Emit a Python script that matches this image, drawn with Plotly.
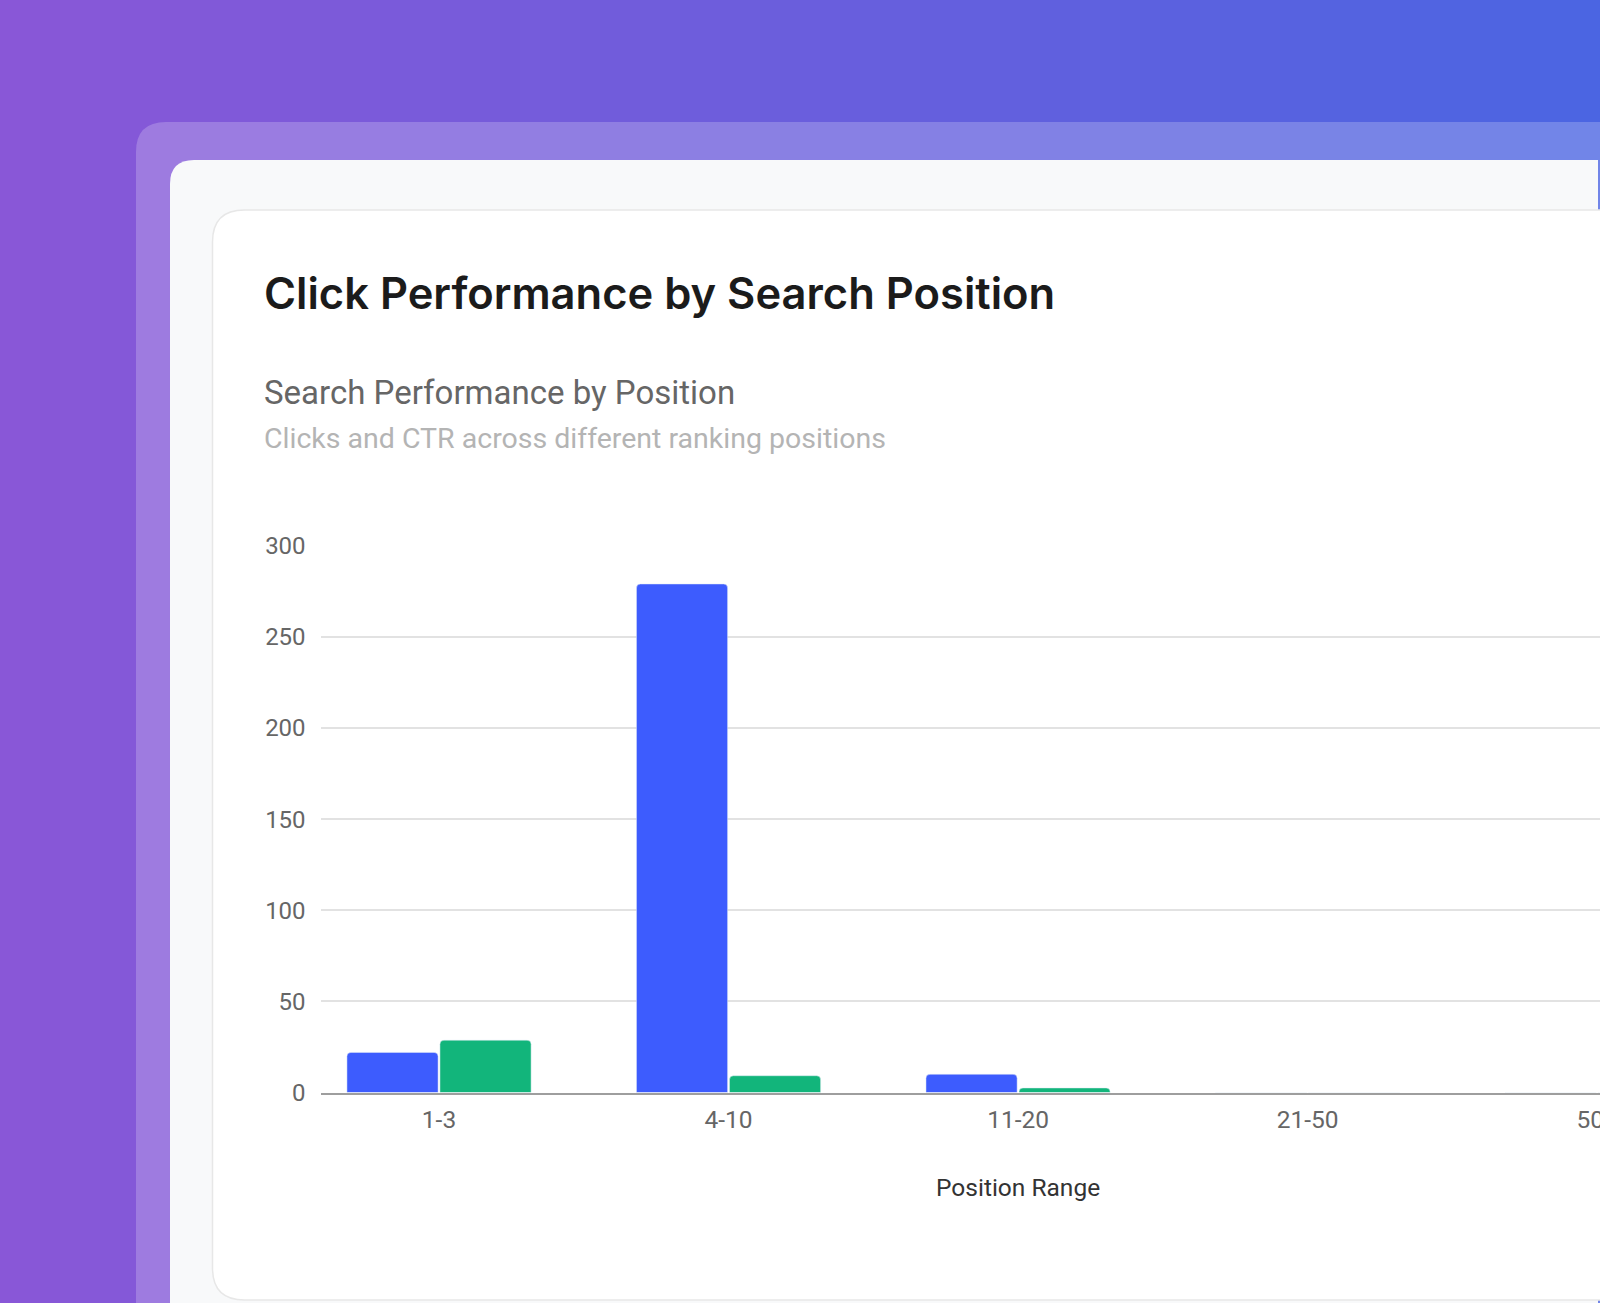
import plotly.graph_objects as go

W, H = 1600, 1303

positions = ["1-3", "4-10", "11-20", "21-50", "50+"]
clicks = [22, 279, 10, 0, 0]
ctr = [28.7, 9.2, 2.5, 0, 0]
y_ticks = [0, 50, 100, 150, 200, 250, 300]

title = "Click Performance by Search Position"
chart_title = "Search Performance by Position"
chart_sub = "Clicks and CTR across different ranking positions"


def px(x):
    return x / W


def py(y):
    return 1 - y / H


def rounded_path(x0, y0, x1, y1, r, corners="tl"):
    # rounded rect in pixel coords -> path in paper coords, Q curves for corners
    tl = "tl" in corners
    bl = "bl" in corners
    p = []
    if tl:
        p.append(f"M{px(x0)},{py(y0 + r)}")
        p.append(f"Q{px(x0)},{py(y0)} {px(x0 + r)},{py(y0)}")
    else:
        p.append(f"M{px(x0)},{py(y0)}")
    p.append(f"L{px(x1)},{py(y0)}")
    p.append(f"L{px(x1)},{py(y1)}")
    if bl:
        p.append(f"L{px(x0 + r)},{py(y1)}")
        p.append(f"Q{px(x0)},{py(y1)} {px(x0)},{py(y1 - r)}")
    else:
        p.append(f"L{px(x0)},{py(y1)}")
    p.append("Z")
    return " ".join(p)


def mix(c1, c2, t):
    a = [int(c1[i:i + 2], 16) for i in (1, 3, 5)]
    b = [int(c2[i:i + 2], 16) for i in (1, 3, 5)]
    return "rgb(%d,%d,%d)" % tuple(round(a[k] + (b[k] - a[k]) * t) for k in range(3))


shapes = []
n_strips = 80
for i in range(n_strips):
    shapes.append(dict(
        type="rect", xref="paper", yref="paper", layer="below",
        x0=i / n_strips, x1=(i + 1) / n_strips + 0.002, y0=0, y1=1,
        fillcolor=mix("#8957d7", "#4b65e2", i / (n_strips - 1)),
        line=dict(width=0),
    ))

# glass panel, inner panel, card
shapes.append(dict(type="path", xref="paper", yref="paper", layer="below",
                   path=rounded_path(136, 122, 1700, 1400, 30),
                   fillcolor="rgba(255,255,255,0.21)", line=dict(width=0)))
shapes.append(dict(type="path", xref="paper", yref="paper", layer="below",
                   path=rounded_path(170, 160, 1598, 1400, 24),
                   fillcolor="#f8f9fa", line=dict(width=0)))
shapes.append(dict(type="path", xref="paper", yref="paper", layer="below",
                   path=rounded_path(212.5, 210, 1640, 1300, 32, corners="tlbl"),
                   fillcolor="#ffffff", line=dict(color="#e7e7e7", width=1.5)))

fig = go.Figure()
fig.add_trace(go.Bar(x=positions, y=clicks, name="Clicks", marker_color="#3d5cfe"))
fig.add_trace(go.Bar(x=positions, y=ctr, name="CTR (%)", marker_color="#12b57b"))

annotations = [
    dict(text=title, x=px(262), y=py(293), xanchor="left", yanchor="middle",
         font=dict(family="Inter", size=43.5, color="#1b1b1b", weight=600)),
    dict(text=chart_title, x=px(262), y=py(393), xanchor="left", yanchor="middle",
         font=dict(family="Roboto", size=33, color="#666666")),
    dict(text=chart_sub, x=px(262), y=py(438), xanchor="left", yanchor="middle",
         font=dict(family="Roboto", size=28.5, color="#b4b4b4")),
    dict(text="Position Range", x=px(1018), y=py(1187), xanchor="center", yanchor="middle",
         font=dict(family="Roboto", size=24.5, color="#333333")),
]
for a in annotations:
    a.update(xref="paper", yref="paper", showarrow=False)

fig.update_layout(
    width=W, height=H,
    margin=dict(l=0, r=0, t=0, b=0),
    paper_bgcolor="#7a5bdb",
    plot_bgcolor="rgba(0,0,0,0)",
    showlegend=False,
    barmode="group",
    bargap=0.3575,
    bargroupgap=0.02,
    barcornerradius=4,
    shapes=shapes,
    annotations=annotations,
    font=dict(family="Roboto", color="#666666"),
    xaxis=dict(
        domain=[320.6 / W, 1.0],
        type="category",
        range=[-0.409, 4.010],
        automargin=False,
        showgrid=False,
        showline=True, linecolor="#9e9e9e", linewidth=2,
        ticks="", ticklabelstandoff=4,
        tickfont=dict(family="Roboto", size=24.5, color="#666666"),
    ),
    yaxis=dict(
        domain=[py(1092.5), py(545.7)],
        range=[0, 300],
        tickvals=y_ticks,
        automargin=False,
        showgrid=True, gridcolor="#e2e2e2", gridwidth=1.5,
        zeroline=False,
        ticks="", ticklabelstandoff=14,
        tickfont=dict(family="Roboto", size=24, color="#666666"),
    ),
)

fig.write_html(
    "out.html",
    config={"displayModeBar": False},
    post_script="document.body.style.margin='0';document.body.style.overflow='hidden';",
)
